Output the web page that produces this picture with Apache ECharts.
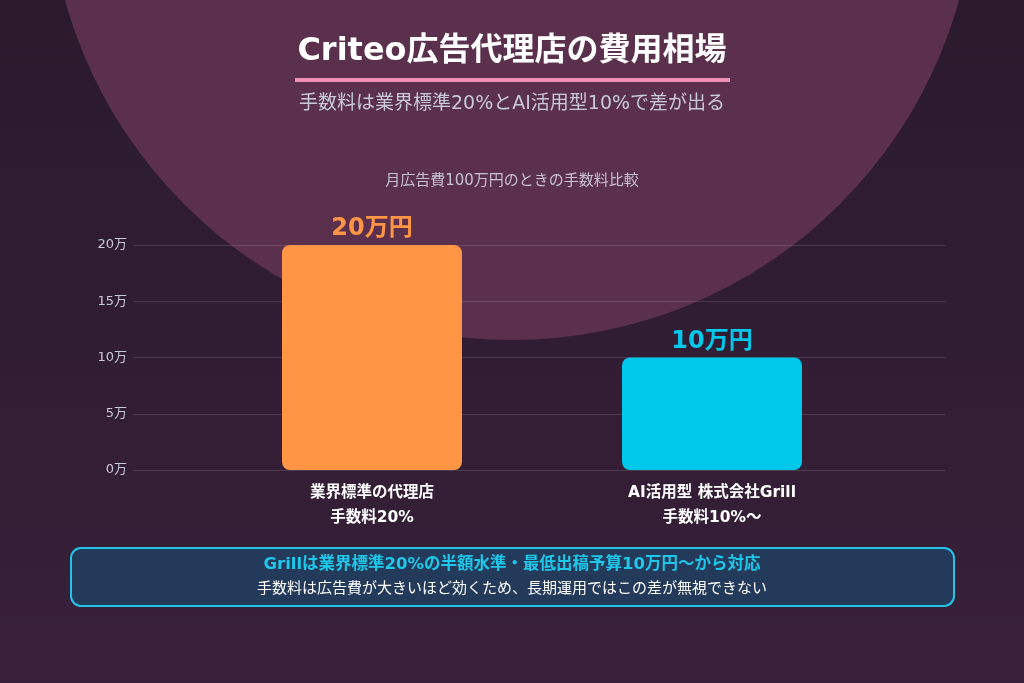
<!DOCTYPE html>
<html>
<head>
<meta charset="utf-8">
<script src="https://cdn.jsdelivr.net/npm/echarts@6/dist/echarts.min.js"></script>
<style>
  html, body { margin: 0; padding: 0; }
  #chart { width: 1024px; height: 683px; }
</style>
</head>
<body>
<div id="chart"></div>
<script>
// data
var categories = ['業界標準の代理店\n手数料20%', 'AI活用型 株式会社Grill\n手数料10%〜'];
var fees = [200000, 100000];
var feeLabels = ['20万円', '10万円'];
var barColors = ['#ff9545', '#00c8ea'];

// wide latin glyphs first, CJK falls back to Noto
var font = '"DejaVu Sans", "Noto Sans CJK JP", sans-serif';
var chart = echarts.init(document.getElementById('chart'));

var option = {
    backgroundColor: {
        type: 'linear', x: 0, y: 0, x2: 0, y2: 1,
        colorStops: [{ offset: 0, color: '#2a1a2c' }, { offset: 1, color: '#38203a' }]
    },
    textStyle: { fontFamily: font },
    title: [{
        text: 'Criteo広告代理店の費用相場',
        left: 'center',
        top: 31,
        textStyle: { color: '#ffffff', fontSize: 32, fontWeight: 'bold', fontFamily: font }
    }, {
        text: '手数料は業界標準20%とAI活用型10%で差が出る',
        left: 'center',
        top: 90,
        textStyle: { color: '#c8cadc', fontSize: 19, fontWeight: 'normal', fontFamily: font }
    }, {
        text: '月広告費100万円のときの手数料比較',
        left: 'center',
        top: 169,
        textStyle: { color: '#c8c2d2', fontSize: 15, fontWeight: 'normal', fontFamily: font }
    }],
    graphic: [{
        type: 'circle',
        z: -10,
        silent: true,
        shape: { cx: 512, cy: -124, r: 464 },
        style: { fill: '#5a304c' }
    }, {
        type: 'rect',
        shape: { x: 295, y: 78, width: 435, height: 4 },
        style: { fill: '#f28fb2' }
    }, {
        type: 'rect',
        shape: { x: 71, y: 548, width: 883, height: 58, r: 10 },
        style: { fill: '#233a5a', stroke: '#22c4e6', lineWidth: 2 }
    }, {
        type: 'text',
        x: 512, y: 565,
        style: {
            text: 'Grillは業界標準20%の半額水準・最低出稿予算10万円〜から対応',
            fill: '#1ec8ea', font: 'bold 16.5px ' + font,
            align: 'center', verticalAlign: 'middle'
        }
    }, {
        type: 'text',
        x: 512, y: 589,
        style: {
            text: '手数料は広告費が大きいほど効くため、長期運用ではこの差が無視できない',
            fill: '#ffffff', font: '15px ' + font,
            align: 'center', verticalAlign: 'middle'
        }
    }],
    grid: [
        { left: 133, right: 79, top: 245, bottom: 213 },
        { left: 202, right: 142, top: 245, bottom: 213 }
    ],
    xAxis: [{
        type: 'category',
        gridIndex: 0,
        data: categories,
        show: false
    }, {
        type: 'category',
        gridIndex: 1,
        data: categories,
        axisLine: { show: false },
        axisTick: { show: false },
        axisLabel: {
            color: '#ffffff',
            fontSize: 15.5,
            fontWeight: 'bold',
            lineHeight: 25,
            margin: 10,
            fontFamily: font
        }
    }],
    yAxis: [{
        type: 'value',
        gridIndex: 0,
        min: 0,
        max: 200000,
        interval: 50000,
        axisLine: { show: false },
        axisTick: { show: false },
        axisLabel: {
            color: '#c8cadc',
            fontSize: 13,
            margin: 6,
            fontFamily: font,
            formatter: function (v) { return (v / 10000) + '万'; }
        },
        splitLine: { lineStyle: { color: 'rgba(255,255,255,0.13)', width: 1 } }
    }, {
        type: 'value',
        gridIndex: 1,
        min: 0,
        max: 200000,
        show: false,
        splitLine: { show: false }
    }],
    series: [{
        type: 'bar',
        xAxisIndex: 1,
        yAxisIndex: 1,
        barWidth: 180,
        data: fees.map(function (v, i) {
            return {
                value: v,
                itemStyle: { color: barColors[i], borderRadius: 8 },
                label: { color: barColors[i], formatter: feeLabels[i] }
            };
        }),
        label: {
            show: true,
            position: 'top',
            distance: 4,
            fontSize: 24,
            fontWeight: 'bold',
            fontFamily: font
        }
    }]
};

chart.setOption(option);
</script>
</body>
</html>
